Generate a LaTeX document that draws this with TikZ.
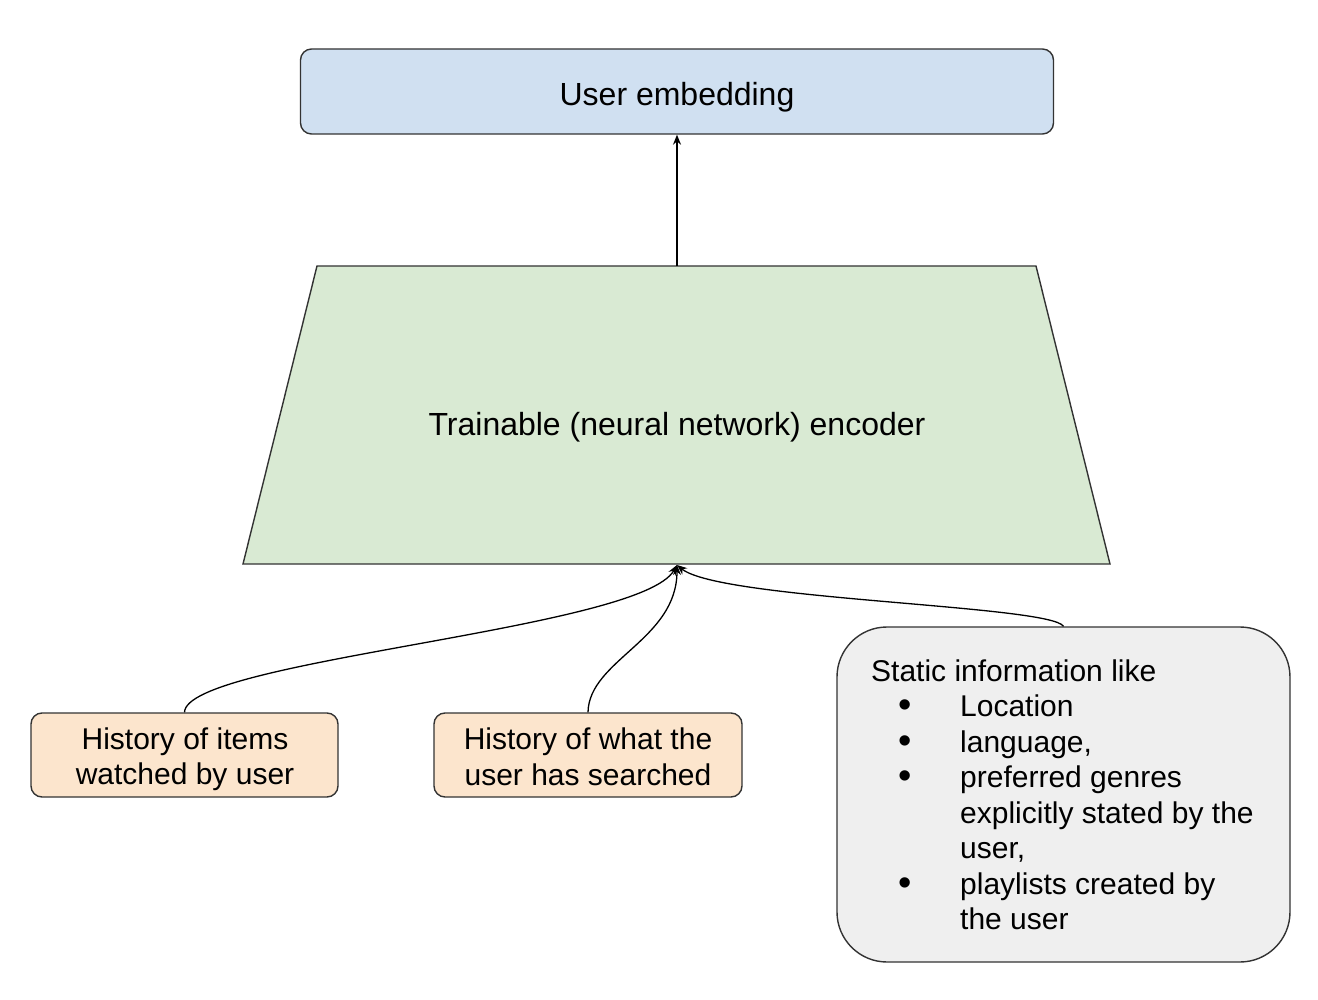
\documentclass[tikz,border=0pt]{standalone}
\usepackage{fontspec}
\setmainfont{Liberation Sans}
\usetikzlibrary{arrows.meta}
\definecolor{userblue}{HTML}{D0E0F1}
\definecolor{encgreen}{HTML}{D9EAD3}
\definecolor{peach}{HTML}{FCE5CD}
\definecolor{lightgray}{HTML}{EFEFEF}
\definecolor{edge}{HTML}{333333}
\newcommand\bulitem{\makebox[89pt][l]{\hspace*{27pt}\raisebox{-1pt}{\fontsize{38}{35.5}\selectfont •}}}
\begin{document}
\begin{tikzpicture}[x=1pt,y=-1pt,
  box/.style={draw=edge, line width=1.4pt, rounded corners=11pt, inner sep=0pt},
  lbl/.style={inner sep=0pt, align=center},
  conn/.style={draw=black, line width=1.3pt, -{Stealth[length=10pt,width=8pt]}},
  txtsm/.style={font=\fontsize{30}{35.5}\selectfont},
  txtbig/.style={font=\fontsize{32}{38}\selectfont}]
\useasboundingbox (0,0) rectangle (1318,1000);
% user embedding
\node[box, fill=userblue, minimum width=753pt, minimum height=85pt] (ue) at (677,91.5) {};
\node[lbl, txtbig] (uet) at (677,97) {User embedding};
% encoder trapezoid
\draw[draw=edge, line width=1.4pt, fill=encgreen] (317,266) -- (1036,266) -- (1110,564) -- (243,564) -- cycle;
\coordinate (enctop) at (677,266);
\coordinate (encbot) at (677,565);
\node[lbl, txtbig] (enc) at (677,427) {Trainable (neural network) encoder};
% inputs
\node[box, fill=peach, minimum width=307pt, minimum height=84pt] (hw) at (184.5,755) {};
\node[lbl, txtsm] (hwt) at (185,759) {History of items\\watched by user};
\node[box, fill=peach, minimum width=308pt, minimum height=84pt] (hs) at (588,755) {};
\node[lbl, txtsm] (hst) at (588,757) {History of what the\\user has searched};
\node[box, fill=lightgray, rounded corners=50pt, minimum width=453pt, minimum height=335pt] (st) at (1063.5,794.5) {};
\node[anchor=base west, inner sep=0pt, txtsm] (stt) at (871,681) {%
\begin{tabular}[t]{@{}l@{}l@{}}
\multicolumn{2}{@{}l@{}}{Static information like}\\
\bulitem & Location\\
\bulitem & language,\\
\bulitem & preferred genres\\
 & explicitly stated by the\\
 & user,\\
\bulitem & playlists created by\\
 & the user
\end{tabular}};
% connectors
\draw[conn] (enctop) -- (ue.south);
\draw[conn] (hw.north) .. controls (186,660) and (640,630) .. (encbot);
\draw[conn] (hs.north) .. controls (589,660) and (677,640) .. (encbot);
\draw[conn] (st.north) .. controls (1050,605) and (720,600) .. (encbot);
\end{tikzpicture}
\end{document}
